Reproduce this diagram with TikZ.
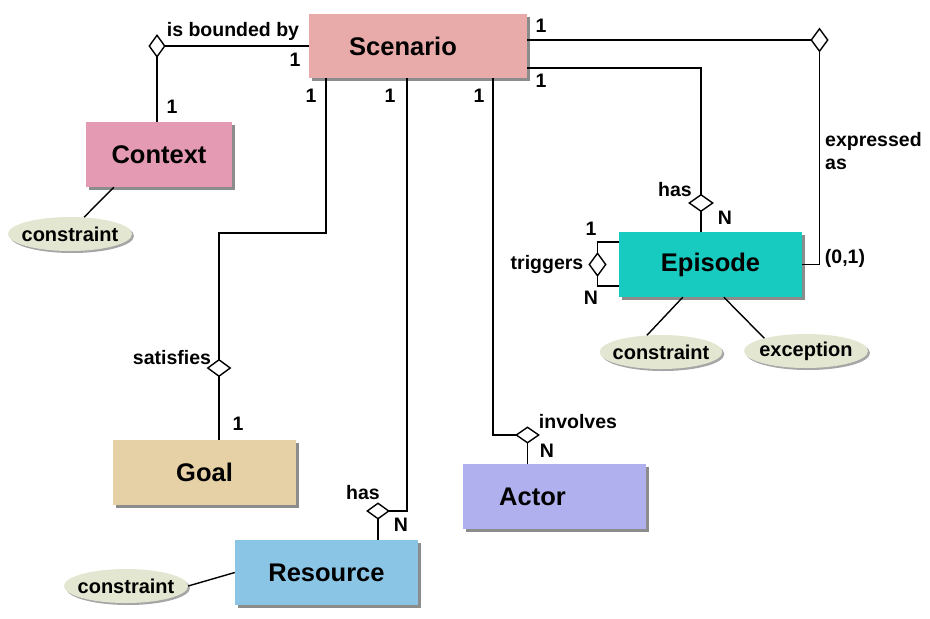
\documentclass[tikz,border=0pt]{standalone}
\usepackage{fontspec}
\setmainfont{Liberation Sans}
\usetikzlibrary{shapes.geometric,shadows}
\definecolor{cScen}{HTML}{E9AAAA}
\definecolor{cCtx}{HTML}{E59AB4}
\definecolor{cGoal}{HTML}{E5D1A5}
\definecolor{cRes}{HTML}{8BC5E5}
\definecolor{cAct}{HTML}{B1B0EE}
\definecolor{cEpi}{HTML}{18CBC0}
\definecolor{cEll}{HTML}{E3E6D0}
\tikzset{
  entity/.style={rectangle, minimum width=183pt, minimum height=65pt, inner sep=0pt,
    font=\fontsize{25.5}{30}\selectfont\bfseries,
    drop shadow={shadow xshift=3pt, shadow yshift=-3pt, fill=black, opacity=0.45}},
  attr/.style={ellipse, fill=cEll, minimum width=124pt, minimum height=34pt,
    inner xsep=-5pt, inner ysep=0pt,
    font=\fontsize{20}{24}\selectfont\bfseries,
    drop shadow={shadow xshift=2pt, shadow yshift=-2pt, fill=black, opacity=0.35}},
  dia/.style={diamond, draw, fill=white, line width=1.4pt, inner sep=0pt},
  lbl/.style={font=\fontsize{19.5}{23}\selectfont\bfseries, inner sep=0pt},
  conn/.style={line width=1.4pt}
}
\begin{document}
\begin{tikzpicture}[x=1pt,y=-1pt]
\useasboundingbox (0,0) rectangle (930,619);
% entities
\node[entity, fill=cScen, minimum width=218pt, minimum height=64pt] (scen) at (418,46) {\hspace*{-30pt}Scenario};
\node[entity, fill=cCtx, minimum width=146pt] (ctx) at (159,154.5) {Context};
\node[entity, fill=cGoal] (goal) at (204.5,472.5) {Goal};
\node[entity, fill=cRes] (res) at (326.5,572.5) {Resource};
\node[entity, fill=cAct] (act) at (554.5,496.5) {\hspace*{-44pt}Actor};
\node[entity, fill=cEpi] (epi) at (710.5,264.5) {Episode};
% attributes
\node[attr] (e1) at (70,234) {constraint};
\node[attr, minimum width=122pt] (e2) at (661,352) {constraint};
\node[attr] (e3) at (806,351) {exception};
\node[attr] (e4) at (126,586) {constraint};
% connectors (drawn before diamonds)
\draw[conn] (scen.west) -- (157,46) coordinate (cbnd);
\draw[conn] (cbnd) -- (cbnd |- ctx.north);
\draw[conn] (scen.south -| 326,0) -- (326,233) -| (219,368) coordinate (csat);
\draw[conn] (csat) -- (csat |- goal.north);
\draw[conn] (scen.south -| 407,0) |- (378,511) coordinate (cres);
\draw[conn] (cres) -- (cres |- res.north);
\draw[conn] (scen.south -| 493,0) |- (527.5,435) coordinate (cact);
\draw[conn] (cact) -- (cact |- act.north);
\draw[conn] (scen.east |- 0,68) -| (701,203) coordinate (cep);
\draw[conn] (cep) -- (cep |- epi.north);
\draw[conn] (scen.east |- 0,40) -- (819.5,40) coordinate (cexp);
\draw[conn] (cexp) |- (epi.east);
\draw[conn] (epi.west |- 0,242) -| (597.5,264.5) coordinate (ctrig);
\draw[conn] (ctrig) |- (epi.west |- 0,286);
\draw[conn] ([xshift=28pt]ctx.south west) -- (e1.50);
\draw[conn] ([xshift=64pt]epi.south west) -- (e2.130);
\draw[conn] ([xshift=105pt]epi.south west) -- (e3.163);
\draw[conn] (res.west) -- (e4.east);
% diamonds
\node[dia, minimum width=16pt, minimum height=22pt] (dctx) at (cbnd) {};
\node[dia, minimum width=23pt, minimum height=17pt] (dgoal) at (csat) {};
\node[dia, minimum width=22pt, minimum height=16pt] (dres) at (cres) {};
\node[dia, minimum width=23pt, minimum height=16pt] (dact) at (cact) {};
\node[dia, minimum width=24pt, minimum height=17pt] (dep) at (cep) {};
\node[dia, minimum width=17pt, minimum height=23pt] (dexp) at (cexp) {};
\node[dia, minimum width=17pt, minimum height=23pt] (dtrig) at (ctrig) {};
% labels
\node[lbl] (l1) at (233,31) {is bounded by};
\node[lbl] (l2) at (295,60) {1};
\node[lbl] (l3) at (172,107) {1};
\node[lbl] (l4) at (311,96) {1};
\node[lbl] (l5) at (390,96) {1};
\node[lbl] (l6) at (479,96) {1};
\node[lbl] (l7) at (172,358) {satisfies};
\node[lbl] (l8) at (238,424) {1};
\node[lbl] (l9) at (363,493) {has};
\node[lbl] (l10) at (401,525) {N};
\node[lbl] (l11) at (578,422) {involves};
\node[lbl] (l12) at (547,451) {N};
\node[lbl] (l13) at (541,26) {1};
\node[lbl] (l14) at (541,81) {1};
\node[lbl] (l15) at (675,190) {has};
\node[lbl] (l16) at (725,218) {N};
\node[lbl, align=left, anchor=west] (l17) at (825,151) {expressed\\as};
\node[lbl] (l18) at (845,258) {(0,1)};
\node[lbl] (l19) at (547,264) {triggers};
\node[lbl] (l20) at (591,229) {1};
\node[lbl] (l21) at (591,298) {N};
\end{tikzpicture}
\end{document}
